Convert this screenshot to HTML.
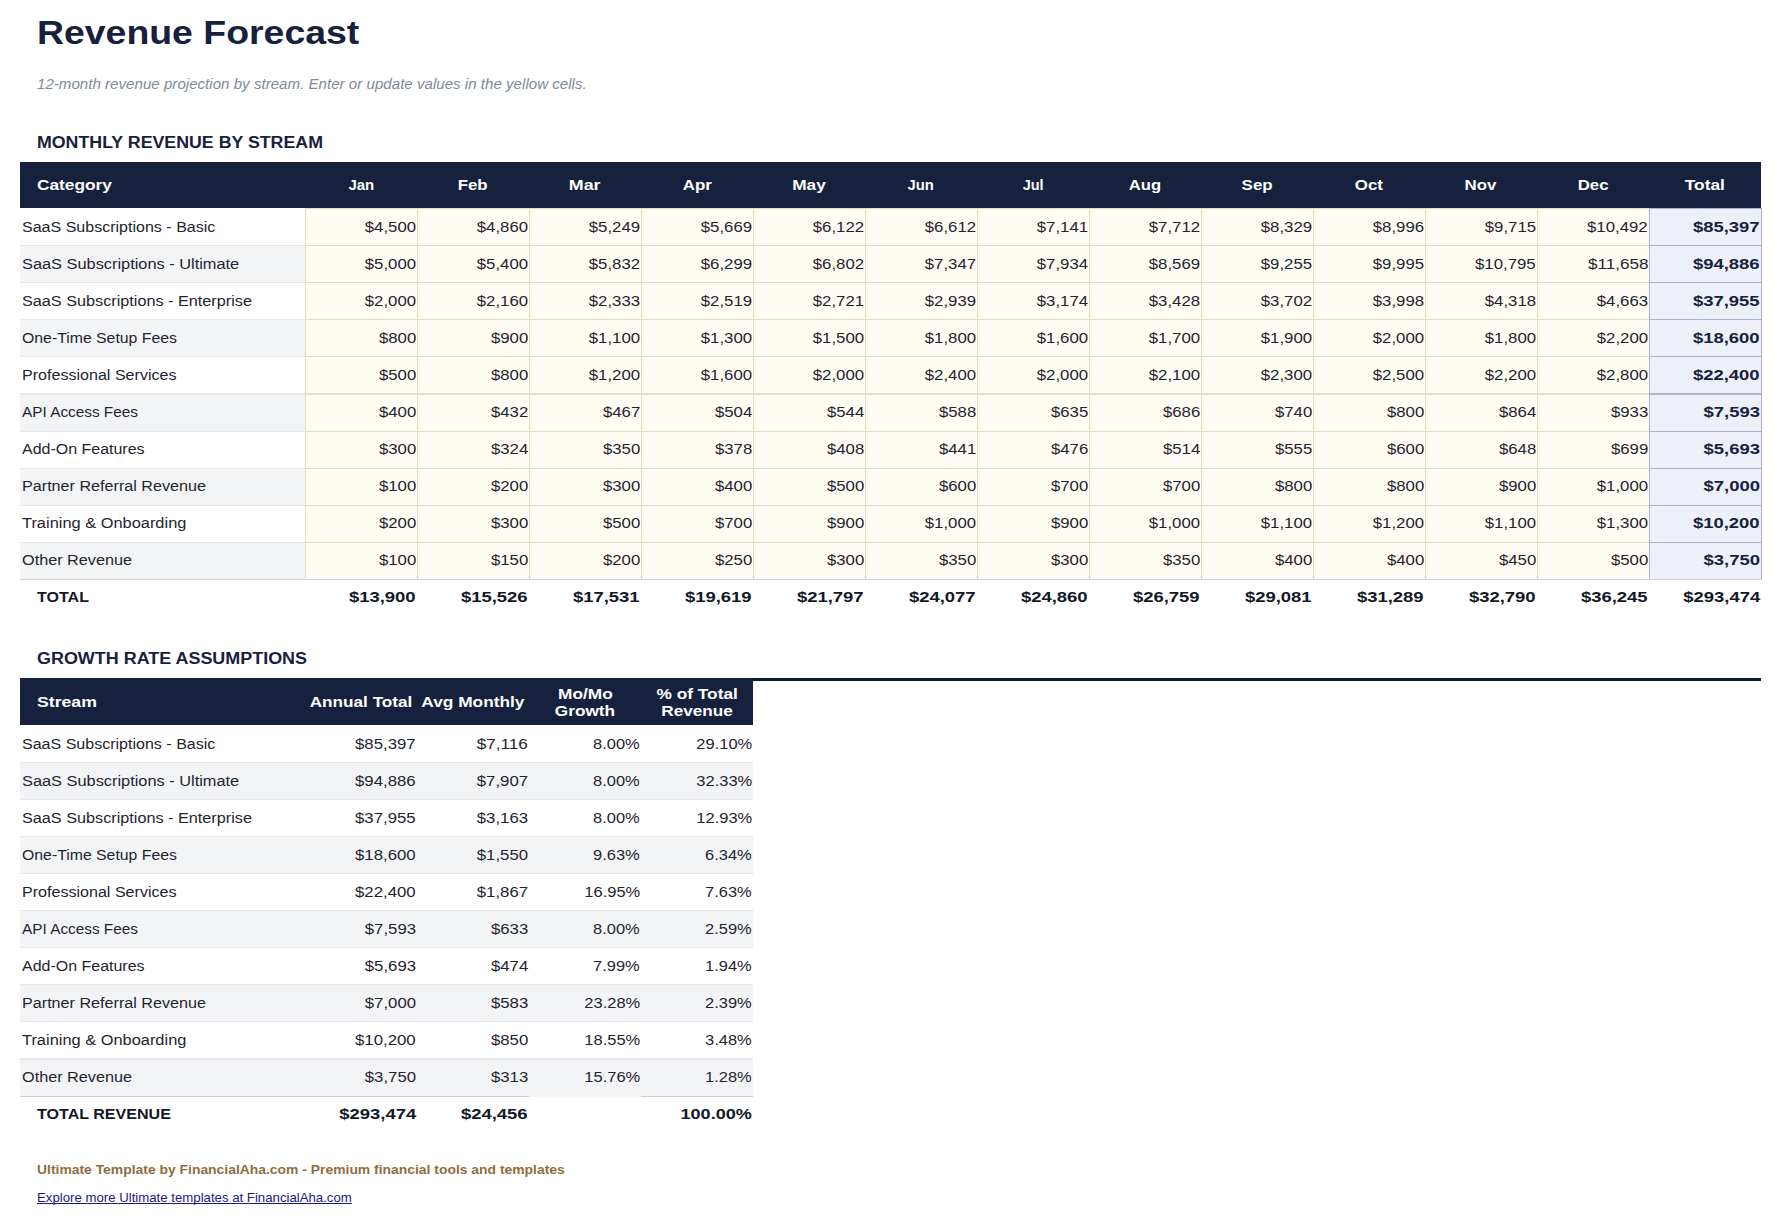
<!DOCTYPE html>
<html><head><meta charset="utf-8"><title>Revenue Forecast</title>
<style>
html,body{margin:0;padding:0;background:#fff;}
body{width:1782px;height:1225px;position:relative;overflow:hidden;font-family:"Liberation Sans", sans-serif;}
body>div{position:absolute;}
</style></head><body>
<div style="top:11.36px;height:44px;line-height:44px;font-size:33.600px;font-weight:700;color:#16213e;white-space:nowrap;left:37px;transform-origin:0 50%;transform:scaleX(1.1140);">Revenue Forecast</div>
<div style="top:75.20px;height:18px;line-height:18px;font-size:13.860px;font-weight:400;color:#808a9c;white-space:nowrap;font-style:italic;left:37px;transform-origin:0 50%;transform:scaleX(1.0911);">12-month revenue projection by stream. Enter or update values in the yellow cells.</div>
<div style="top:132.13px;height:22px;line-height:22px;font-size:16.936px;font-weight:700;color:#16213e;white-space:nowrap;left:37px;transform-origin:0 50%;transform:scaleX(1.0498);">MONTHLY REVENUE BY STREAM</div>
<div style="left:20px;top:162px;width:1741px;height:46px;background:#16213e"></div>
<div style="top:174.66px;height:20px;line-height:20px;font-size:15.404px;font-weight:700;color:#fff;white-space:nowrap;left:37px;transform-origin:0 50%;transform:scaleX(1.1232);">Category</div>
<div style="top:174.66px;height:20px;line-height:20px;font-size:15.404px;font-weight:700;color:#fff;white-space:nowrap;left:61px;width:600px;text-align:center;transform-origin:50% 50%;"><span style="display:inline-block;transform:scaleX(0.9717)">Jan</span></div>
<div style="top:174.66px;height:20px;line-height:20px;font-size:15.404px;font-weight:700;color:#fff;white-space:nowrap;left:173px;width:600px;text-align:center;transform-origin:50% 50%;"><span style="display:inline-block;transform:scaleX(1.0908)">Feb</span></div>
<div style="top:174.66px;height:20px;line-height:20px;font-size:15.404px;font-weight:700;color:#fff;white-space:nowrap;left:285px;width:600px;text-align:center;transform-origin:50% 50%;"><span style="display:inline-block;transform:scaleX(1.1581)">Mar</span></div>
<div style="top:174.66px;height:20px;line-height:20px;font-size:15.404px;font-weight:700;color:#fff;white-space:nowrap;left:397px;width:600px;text-align:center;transform-origin:50% 50%;"><span style="display:inline-block;transform:scaleX(1.0961)">Apr</span></div>
<div style="top:174.66px;height:20px;line-height:20px;font-size:15.404px;font-weight:700;color:#fff;white-space:nowrap;left:509px;width:600px;text-align:center;transform-origin:50% 50%;"><span style="display:inline-block;transform:scaleX(1.1210)">May</span></div>
<div style="top:174.66px;height:20px;line-height:20px;font-size:15.404px;font-weight:700;color:#fff;white-space:nowrap;left:621px;width:600px;text-align:center;transform-origin:50% 50%;"><span style="display:inline-block;transform:scaleX(0.9618)">Jun</span></div>
<div style="top:174.66px;height:20px;line-height:20px;font-size:15.404px;font-weight:700;color:#fff;white-space:nowrap;left:733px;width:600px;text-align:center;transform-origin:50% 50%;"><span style="display:inline-block;transform:scaleX(0.9403)">Jul</span></div>
<div style="top:174.66px;height:20px;line-height:20px;font-size:15.404px;font-weight:700;color:#fff;white-space:nowrap;left:845px;width:600px;text-align:center;transform-origin:50% 50%;"><span style="display:inline-block;transform:scaleX(1.0789)">Aug</span></div>
<div style="top:174.66px;height:20px;line-height:20px;font-size:15.404px;font-weight:700;color:#fff;white-space:nowrap;left:957px;width:600px;text-align:center;transform-origin:50% 50%;"><span style="display:inline-block;transform:scaleX(1.0980)">Sep</span></div>
<div style="top:174.66px;height:20px;line-height:20px;font-size:15.404px;font-weight:700;color:#fff;white-space:nowrap;left:1069px;width:600px;text-align:center;transform-origin:50% 50%;"><span style="display:inline-block;transform:scaleX(1.0974)">Oct</span></div>
<div style="top:174.66px;height:20px;line-height:20px;font-size:15.404px;font-weight:700;color:#fff;white-space:nowrap;left:1181px;width:600px;text-align:center;transform-origin:50% 50%;"><span style="display:inline-block;transform:scaleX(1.0967)">Nov</span></div>
<div style="top:174.66px;height:20px;line-height:20px;font-size:15.404px;font-weight:700;color:#fff;white-space:nowrap;left:1293px;width:600px;text-align:center;transform-origin:50% 50%;"><span style="display:inline-block;transform:scaleX(1.0908)">Dec</span></div>
<div style="top:174.66px;height:20px;line-height:20px;font-size:15.404px;font-weight:700;color:#fff;white-space:nowrap;left:1405px;width:600px;text-align:center;transform-origin:50% 50%;"><span style="display:inline-block;transform:scaleX(1.1241)">Total</span></div>
<div style="left:20px;top:208px;width:285px;height:38px;background:#ffffff"></div>
<div style="left:20px;top:245px;width:285px;height:38px;background:#f3f4f6"></div>
<div style="left:20px;top:282px;width:285px;height:38px;background:#ffffff"></div>
<div style="left:20px;top:319px;width:285px;height:38px;background:#f3f4f6"></div>
<div style="left:20px;top:356px;width:285px;height:39px;background:#ffffff"></div>
<div style="left:20px;top:393px;width:285px;height:39px;background:#f3f4f6"></div>
<div style="left:20px;top:431px;width:285px;height:38px;background:#ffffff"></div>
<div style="left:20px;top:468px;width:285px;height:38px;background:#f3f4f6"></div>
<div style="left:20px;top:505px;width:285px;height:38px;background:#ffffff"></div>
<div style="left:20px;top:542px;width:285px;height:38px;background:#f3f4f6"></div>
<div style="left:305px;top:208px;width:1344px;height:371px;background:#fffcf3"></div>
<div style="left:1649px;top:208px;width:112px;height:371px;background:#edf0f8"></div>
<div style="left:20px;top:245px;width:285px;height:1px;background:#e5e7eb"></div>
<div style="left:20px;top:282px;width:285px;height:1px;background:#e5e7eb"></div>
<div style="left:20px;top:319px;width:285px;height:1px;background:#e5e7eb"></div>
<div style="left:20px;top:356px;width:285px;height:1px;background:#e5e7eb"></div>
<div style="left:20px;top:393px;width:285px;height:1px;background:#e6e8ec"></div>
<div style="left:20px;top:394px;width:285px;height:1px;background:#e6e8ec"></div>
<div style="left:20px;top:431px;width:285px;height:1px;background:#e5e7eb"></div>
<div style="left:20px;top:468px;width:285px;height:1px;background:#e5e7eb"></div>
<div style="left:20px;top:505px;width:285px;height:1px;background:#e5e7eb"></div>
<div style="left:20px;top:542px;width:285px;height:1px;background:#e5e7eb"></div>
<div style="top:216.66px;height:20px;line-height:20px;font-size:15.404px;font-weight:400;color:#1f2430;white-space:nowrap;left:21.5px;transform-origin:0 50%;transform:scaleX(1.0415);">SaaS Subscriptions - Basic</div>
<div style="top:216.66px;height:20px;line-height:20px;font-size:15.404px;font-weight:400;color:#1f2430;white-space:nowrap;right:1366px;transform-origin:100% 50%;text-align:right;transform:scaleX(1.0896);">$4,500</div>
<div style="top:216.66px;height:20px;line-height:20px;font-size:15.404px;font-weight:400;color:#1f2430;white-space:nowrap;right:1254px;transform-origin:100% 50%;text-align:right;transform:scaleX(1.0896);">$4,860</div>
<div style="top:216.66px;height:20px;line-height:20px;font-size:15.404px;font-weight:400;color:#1f2430;white-space:nowrap;right:1142px;transform-origin:100% 50%;text-align:right;transform:scaleX(1.0896);">$5,249</div>
<div style="top:216.66px;height:20px;line-height:20px;font-size:15.404px;font-weight:400;color:#1f2430;white-space:nowrap;right:1030px;transform-origin:100% 50%;text-align:right;transform:scaleX(1.0896);">$5,669</div>
<div style="top:216.66px;height:20px;line-height:20px;font-size:15.404px;font-weight:400;color:#1f2430;white-space:nowrap;right:918px;transform-origin:100% 50%;text-align:right;transform:scaleX(1.0896);">$6,122</div>
<div style="top:216.66px;height:20px;line-height:20px;font-size:15.404px;font-weight:400;color:#1f2430;white-space:nowrap;right:806px;transform-origin:100% 50%;text-align:right;transform:scaleX(1.0896);">$6,612</div>
<div style="top:216.66px;height:20px;line-height:20px;font-size:15.404px;font-weight:400;color:#1f2430;white-space:nowrap;right:694px;transform-origin:100% 50%;text-align:right;transform:scaleX(1.0896);">$7,141</div>
<div style="top:216.66px;height:20px;line-height:20px;font-size:15.404px;font-weight:400;color:#1f2430;white-space:nowrap;right:582px;transform-origin:100% 50%;text-align:right;transform:scaleX(1.0896);">$7,712</div>
<div style="top:216.66px;height:20px;line-height:20px;font-size:15.404px;font-weight:400;color:#1f2430;white-space:nowrap;right:470px;transform-origin:100% 50%;text-align:right;transform:scaleX(1.0896);">$8,329</div>
<div style="top:216.66px;height:20px;line-height:20px;font-size:15.404px;font-weight:400;color:#1f2430;white-space:nowrap;right:358px;transform-origin:100% 50%;text-align:right;transform:scaleX(1.0896);">$8,996</div>
<div style="top:216.66px;height:20px;line-height:20px;font-size:15.404px;font-weight:400;color:#1f2430;white-space:nowrap;right:246px;transform-origin:100% 50%;text-align:right;transform:scaleX(1.0896);">$9,715</div>
<div style="top:216.66px;height:20px;line-height:20px;font-size:15.404px;font-weight:400;color:#1f2430;white-space:nowrap;right:134px;transform-origin:100% 50%;text-align:right;transform:scaleX(1.0893);">$10,492</div>
<div style="top:216.66px;height:20px;line-height:20px;font-size:15.404px;font-weight:700;color:#16213e;white-space:nowrap;right:22px;transform-origin:100% 50%;text-align:right;transform:scaleX(1.1999);">$85,397</div>
<div style="top:253.66px;height:20px;line-height:20px;font-size:15.404px;font-weight:400;color:#1f2430;white-space:nowrap;left:21.5px;transform-origin:0 50%;transform:scaleX(1.0624);">SaaS Subscriptions - Ultimate</div>
<div style="top:253.66px;height:20px;line-height:20px;font-size:15.404px;font-weight:400;color:#1f2430;white-space:nowrap;right:1366px;transform-origin:100% 50%;text-align:right;transform:scaleX(1.0896);">$5,000</div>
<div style="top:253.66px;height:20px;line-height:20px;font-size:15.404px;font-weight:400;color:#1f2430;white-space:nowrap;right:1254px;transform-origin:100% 50%;text-align:right;transform:scaleX(1.0896);">$5,400</div>
<div style="top:253.66px;height:20px;line-height:20px;font-size:15.404px;font-weight:400;color:#1f2430;white-space:nowrap;right:1142px;transform-origin:100% 50%;text-align:right;transform:scaleX(1.0896);">$5,832</div>
<div style="top:253.66px;height:20px;line-height:20px;font-size:15.404px;font-weight:400;color:#1f2430;white-space:nowrap;right:1030px;transform-origin:100% 50%;text-align:right;transform:scaleX(1.0896);">$6,299</div>
<div style="top:253.66px;height:20px;line-height:20px;font-size:15.404px;font-weight:400;color:#1f2430;white-space:nowrap;right:918px;transform-origin:100% 50%;text-align:right;transform:scaleX(1.0896);">$6,802</div>
<div style="top:253.66px;height:20px;line-height:20px;font-size:15.404px;font-weight:400;color:#1f2430;white-space:nowrap;right:806px;transform-origin:100% 50%;text-align:right;transform:scaleX(1.0896);">$7,347</div>
<div style="top:253.66px;height:20px;line-height:20px;font-size:15.404px;font-weight:400;color:#1f2430;white-space:nowrap;right:694px;transform-origin:100% 50%;text-align:right;transform:scaleX(1.0896);">$7,934</div>
<div style="top:253.66px;height:20px;line-height:20px;font-size:15.404px;font-weight:400;color:#1f2430;white-space:nowrap;right:582px;transform-origin:100% 50%;text-align:right;transform:scaleX(1.0896);">$8,569</div>
<div style="top:253.66px;height:20px;line-height:20px;font-size:15.404px;font-weight:400;color:#1f2430;white-space:nowrap;right:470px;transform-origin:100% 50%;text-align:right;transform:scaleX(1.0896);">$9,255</div>
<div style="top:253.66px;height:20px;line-height:20px;font-size:15.404px;font-weight:400;color:#1f2430;white-space:nowrap;right:358px;transform-origin:100% 50%;text-align:right;transform:scaleX(1.0896);">$9,995</div>
<div style="top:253.66px;height:20px;line-height:20px;font-size:15.404px;font-weight:400;color:#1f2430;white-space:nowrap;right:246px;transform-origin:100% 50%;text-align:right;transform:scaleX(1.0893);">$10,795</div>
<div style="top:253.66px;height:20px;line-height:20px;font-size:15.404px;font-weight:400;color:#1f2430;white-space:nowrap;right:134px;transform-origin:100% 50%;text-align:right;transform:scaleX(1.1121);">$11,658</div>
<div style="top:253.66px;height:20px;line-height:20px;font-size:15.404px;font-weight:700;color:#16213e;white-space:nowrap;right:22px;transform-origin:100% 50%;text-align:right;transform:scaleX(1.1999);">$94,886</div>
<div style="top:290.66px;height:20px;line-height:20px;font-size:15.404px;font-weight:400;color:#1f2430;white-space:nowrap;left:21.5px;transform-origin:0 50%;transform:scaleX(1.0541);">SaaS Subscriptions - Enterprise</div>
<div style="top:290.66px;height:20px;line-height:20px;font-size:15.404px;font-weight:400;color:#1f2430;white-space:nowrap;right:1366px;transform-origin:100% 50%;text-align:right;transform:scaleX(1.0896);">$2,000</div>
<div style="top:290.66px;height:20px;line-height:20px;font-size:15.404px;font-weight:400;color:#1f2430;white-space:nowrap;right:1254px;transform-origin:100% 50%;text-align:right;transform:scaleX(1.0896);">$2,160</div>
<div style="top:290.66px;height:20px;line-height:20px;font-size:15.404px;font-weight:400;color:#1f2430;white-space:nowrap;right:1142px;transform-origin:100% 50%;text-align:right;transform:scaleX(1.0896);">$2,333</div>
<div style="top:290.66px;height:20px;line-height:20px;font-size:15.404px;font-weight:400;color:#1f2430;white-space:nowrap;right:1030px;transform-origin:100% 50%;text-align:right;transform:scaleX(1.0896);">$2,519</div>
<div style="top:290.66px;height:20px;line-height:20px;font-size:15.404px;font-weight:400;color:#1f2430;white-space:nowrap;right:918px;transform-origin:100% 50%;text-align:right;transform:scaleX(1.0896);">$2,721</div>
<div style="top:290.66px;height:20px;line-height:20px;font-size:15.404px;font-weight:400;color:#1f2430;white-space:nowrap;right:806px;transform-origin:100% 50%;text-align:right;transform:scaleX(1.0896);">$2,939</div>
<div style="top:290.66px;height:20px;line-height:20px;font-size:15.404px;font-weight:400;color:#1f2430;white-space:nowrap;right:694px;transform-origin:100% 50%;text-align:right;transform:scaleX(1.0896);">$3,174</div>
<div style="top:290.66px;height:20px;line-height:20px;font-size:15.404px;font-weight:400;color:#1f2430;white-space:nowrap;right:582px;transform-origin:100% 50%;text-align:right;transform:scaleX(1.0896);">$3,428</div>
<div style="top:290.66px;height:20px;line-height:20px;font-size:15.404px;font-weight:400;color:#1f2430;white-space:nowrap;right:470px;transform-origin:100% 50%;text-align:right;transform:scaleX(1.0896);">$3,702</div>
<div style="top:290.66px;height:20px;line-height:20px;font-size:15.404px;font-weight:400;color:#1f2430;white-space:nowrap;right:358px;transform-origin:100% 50%;text-align:right;transform:scaleX(1.0896);">$3,998</div>
<div style="top:290.66px;height:20px;line-height:20px;font-size:15.404px;font-weight:400;color:#1f2430;white-space:nowrap;right:246px;transform-origin:100% 50%;text-align:right;transform:scaleX(1.0896);">$4,318</div>
<div style="top:290.66px;height:20px;line-height:20px;font-size:15.404px;font-weight:400;color:#1f2430;white-space:nowrap;right:134px;transform-origin:100% 50%;text-align:right;transform:scaleX(1.0896);">$4,663</div>
<div style="top:290.66px;height:20px;line-height:20px;font-size:15.404px;font-weight:700;color:#16213e;white-space:nowrap;right:22px;transform-origin:100% 50%;text-align:right;transform:scaleX(1.1999);">$37,955</div>
<div style="top:327.66px;height:20px;line-height:20px;font-size:15.404px;font-weight:400;color:#1f2430;white-space:nowrap;left:21.5px;transform-origin:0 50%;transform:scaleX(1.0271);">One-Time Setup Fees</div>
<div style="top:327.66px;height:20px;line-height:20px;font-size:15.404px;font-weight:400;color:#1f2430;white-space:nowrap;right:1366px;transform-origin:100% 50%;text-align:right;transform:scaleX(1.0894);">$800</div>
<div style="top:327.66px;height:20px;line-height:20px;font-size:15.404px;font-weight:400;color:#1f2430;white-space:nowrap;right:1254px;transform-origin:100% 50%;text-align:right;transform:scaleX(1.0894);">$900</div>
<div style="top:327.66px;height:20px;line-height:20px;font-size:15.404px;font-weight:400;color:#1f2430;white-space:nowrap;right:1142px;transform-origin:100% 50%;text-align:right;transform:scaleX(1.0896);">$1,100</div>
<div style="top:327.66px;height:20px;line-height:20px;font-size:15.404px;font-weight:400;color:#1f2430;white-space:nowrap;right:1030px;transform-origin:100% 50%;text-align:right;transform:scaleX(1.0896);">$1,300</div>
<div style="top:327.66px;height:20px;line-height:20px;font-size:15.404px;font-weight:400;color:#1f2430;white-space:nowrap;right:918px;transform-origin:100% 50%;text-align:right;transform:scaleX(1.0896);">$1,500</div>
<div style="top:327.66px;height:20px;line-height:20px;font-size:15.404px;font-weight:400;color:#1f2430;white-space:nowrap;right:806px;transform-origin:100% 50%;text-align:right;transform:scaleX(1.0896);">$1,800</div>
<div style="top:327.66px;height:20px;line-height:20px;font-size:15.404px;font-weight:400;color:#1f2430;white-space:nowrap;right:694px;transform-origin:100% 50%;text-align:right;transform:scaleX(1.0896);">$1,600</div>
<div style="top:327.66px;height:20px;line-height:20px;font-size:15.404px;font-weight:400;color:#1f2430;white-space:nowrap;right:582px;transform-origin:100% 50%;text-align:right;transform:scaleX(1.0896);">$1,700</div>
<div style="top:327.66px;height:20px;line-height:20px;font-size:15.404px;font-weight:400;color:#1f2430;white-space:nowrap;right:470px;transform-origin:100% 50%;text-align:right;transform:scaleX(1.0896);">$1,900</div>
<div style="top:327.66px;height:20px;line-height:20px;font-size:15.404px;font-weight:400;color:#1f2430;white-space:nowrap;right:358px;transform-origin:100% 50%;text-align:right;transform:scaleX(1.0896);">$2,000</div>
<div style="top:327.66px;height:20px;line-height:20px;font-size:15.404px;font-weight:400;color:#1f2430;white-space:nowrap;right:246px;transform-origin:100% 50%;text-align:right;transform:scaleX(1.0896);">$1,800</div>
<div style="top:327.66px;height:20px;line-height:20px;font-size:15.404px;font-weight:400;color:#1f2430;white-space:nowrap;right:134px;transform-origin:100% 50%;text-align:right;transform:scaleX(1.0896);">$2,200</div>
<div style="top:327.66px;height:20px;line-height:20px;font-size:15.404px;font-weight:700;color:#16213e;white-space:nowrap;right:22px;transform-origin:100% 50%;text-align:right;transform:scaleX(1.1999);">$18,600</div>
<div style="top:364.66px;height:20px;line-height:20px;font-size:15.404px;font-weight:400;color:#1f2430;white-space:nowrap;left:21.5px;transform-origin:0 50%;transform:scaleX(1.0442);">Professional Services</div>
<div style="top:364.66px;height:20px;line-height:20px;font-size:15.404px;font-weight:400;color:#1f2430;white-space:nowrap;right:1366px;transform-origin:100% 50%;text-align:right;transform:scaleX(1.0894);">$500</div>
<div style="top:364.66px;height:20px;line-height:20px;font-size:15.404px;font-weight:400;color:#1f2430;white-space:nowrap;right:1254px;transform-origin:100% 50%;text-align:right;transform:scaleX(1.0894);">$800</div>
<div style="top:364.66px;height:20px;line-height:20px;font-size:15.404px;font-weight:400;color:#1f2430;white-space:nowrap;right:1142px;transform-origin:100% 50%;text-align:right;transform:scaleX(1.0896);">$1,200</div>
<div style="top:364.66px;height:20px;line-height:20px;font-size:15.404px;font-weight:400;color:#1f2430;white-space:nowrap;right:1030px;transform-origin:100% 50%;text-align:right;transform:scaleX(1.0896);">$1,600</div>
<div style="top:364.66px;height:20px;line-height:20px;font-size:15.404px;font-weight:400;color:#1f2430;white-space:nowrap;right:918px;transform-origin:100% 50%;text-align:right;transform:scaleX(1.0896);">$2,000</div>
<div style="top:364.66px;height:20px;line-height:20px;font-size:15.404px;font-weight:400;color:#1f2430;white-space:nowrap;right:806px;transform-origin:100% 50%;text-align:right;transform:scaleX(1.0896);">$2,400</div>
<div style="top:364.66px;height:20px;line-height:20px;font-size:15.404px;font-weight:400;color:#1f2430;white-space:nowrap;right:694px;transform-origin:100% 50%;text-align:right;transform:scaleX(1.0896);">$2,000</div>
<div style="top:364.66px;height:20px;line-height:20px;font-size:15.404px;font-weight:400;color:#1f2430;white-space:nowrap;right:582px;transform-origin:100% 50%;text-align:right;transform:scaleX(1.0896);">$2,100</div>
<div style="top:364.66px;height:20px;line-height:20px;font-size:15.404px;font-weight:400;color:#1f2430;white-space:nowrap;right:470px;transform-origin:100% 50%;text-align:right;transform:scaleX(1.0896);">$2,300</div>
<div style="top:364.66px;height:20px;line-height:20px;font-size:15.404px;font-weight:400;color:#1f2430;white-space:nowrap;right:358px;transform-origin:100% 50%;text-align:right;transform:scaleX(1.0896);">$2,500</div>
<div style="top:364.66px;height:20px;line-height:20px;font-size:15.404px;font-weight:400;color:#1f2430;white-space:nowrap;right:246px;transform-origin:100% 50%;text-align:right;transform:scaleX(1.0896);">$2,200</div>
<div style="top:364.66px;height:20px;line-height:20px;font-size:15.404px;font-weight:400;color:#1f2430;white-space:nowrap;right:134px;transform-origin:100% 50%;text-align:right;transform:scaleX(1.0896);">$2,800</div>
<div style="top:364.66px;height:20px;line-height:20px;font-size:15.404px;font-weight:700;color:#16213e;white-space:nowrap;right:22px;transform-origin:100% 50%;text-align:right;transform:scaleX(1.1999);">$22,400</div>
<div style="top:401.66px;height:20px;line-height:20px;font-size:15.404px;font-weight:400;color:#1f2430;white-space:nowrap;left:21.5px;transform-origin:0 50%;transform:scaleX(0.9969);">API Access Fees</div>
<div style="top:401.66px;height:20px;line-height:20px;font-size:15.404px;font-weight:400;color:#1f2430;white-space:nowrap;right:1366px;transform-origin:100% 50%;text-align:right;transform:scaleX(1.0894);">$400</div>
<div style="top:401.66px;height:20px;line-height:20px;font-size:15.404px;font-weight:400;color:#1f2430;white-space:nowrap;right:1254px;transform-origin:100% 50%;text-align:right;transform:scaleX(1.0894);">$432</div>
<div style="top:401.66px;height:20px;line-height:20px;font-size:15.404px;font-weight:400;color:#1f2430;white-space:nowrap;right:1142px;transform-origin:100% 50%;text-align:right;transform:scaleX(1.0894);">$467</div>
<div style="top:401.66px;height:20px;line-height:20px;font-size:15.404px;font-weight:400;color:#1f2430;white-space:nowrap;right:1030px;transform-origin:100% 50%;text-align:right;transform:scaleX(1.0894);">$504</div>
<div style="top:401.66px;height:20px;line-height:20px;font-size:15.404px;font-weight:400;color:#1f2430;white-space:nowrap;right:918px;transform-origin:100% 50%;text-align:right;transform:scaleX(1.0894);">$544</div>
<div style="top:401.66px;height:20px;line-height:20px;font-size:15.404px;font-weight:400;color:#1f2430;white-space:nowrap;right:806px;transform-origin:100% 50%;text-align:right;transform:scaleX(1.0894);">$588</div>
<div style="top:401.66px;height:20px;line-height:20px;font-size:15.404px;font-weight:400;color:#1f2430;white-space:nowrap;right:694px;transform-origin:100% 50%;text-align:right;transform:scaleX(1.0894);">$635</div>
<div style="top:401.66px;height:20px;line-height:20px;font-size:15.404px;font-weight:400;color:#1f2430;white-space:nowrap;right:582px;transform-origin:100% 50%;text-align:right;transform:scaleX(1.0894);">$686</div>
<div style="top:401.66px;height:20px;line-height:20px;font-size:15.404px;font-weight:400;color:#1f2430;white-space:nowrap;right:470px;transform-origin:100% 50%;text-align:right;transform:scaleX(1.0894);">$740</div>
<div style="top:401.66px;height:20px;line-height:20px;font-size:15.404px;font-weight:400;color:#1f2430;white-space:nowrap;right:358px;transform-origin:100% 50%;text-align:right;transform:scaleX(1.0894);">$800</div>
<div style="top:401.66px;height:20px;line-height:20px;font-size:15.404px;font-weight:400;color:#1f2430;white-space:nowrap;right:246px;transform-origin:100% 50%;text-align:right;transform:scaleX(1.0894);">$864</div>
<div style="top:401.66px;height:20px;line-height:20px;font-size:15.404px;font-weight:400;color:#1f2430;white-space:nowrap;right:134px;transform-origin:100% 50%;text-align:right;transform:scaleX(1.0894);">$933</div>
<div style="top:401.66px;height:20px;line-height:20px;font-size:15.404px;font-weight:700;color:#16213e;white-space:nowrap;right:22px;transform-origin:100% 50%;text-align:right;transform:scaleX(1.2015);">$7,593</div>
<div style="top:438.66px;height:20px;line-height:20px;font-size:15.404px;font-weight:400;color:#1f2430;white-space:nowrap;left:21.5px;transform-origin:0 50%;transform:scaleX(1.0382);">Add-On Features</div>
<div style="top:438.66px;height:20px;line-height:20px;font-size:15.404px;font-weight:400;color:#1f2430;white-space:nowrap;right:1366px;transform-origin:100% 50%;text-align:right;transform:scaleX(1.0894);">$300</div>
<div style="top:438.66px;height:20px;line-height:20px;font-size:15.404px;font-weight:400;color:#1f2430;white-space:nowrap;right:1254px;transform-origin:100% 50%;text-align:right;transform:scaleX(1.0894);">$324</div>
<div style="top:438.66px;height:20px;line-height:20px;font-size:15.404px;font-weight:400;color:#1f2430;white-space:nowrap;right:1142px;transform-origin:100% 50%;text-align:right;transform:scaleX(1.0894);">$350</div>
<div style="top:438.66px;height:20px;line-height:20px;font-size:15.404px;font-weight:400;color:#1f2430;white-space:nowrap;right:1030px;transform-origin:100% 50%;text-align:right;transform:scaleX(1.0894);">$378</div>
<div style="top:438.66px;height:20px;line-height:20px;font-size:15.404px;font-weight:400;color:#1f2430;white-space:nowrap;right:918px;transform-origin:100% 50%;text-align:right;transform:scaleX(1.0894);">$408</div>
<div style="top:438.66px;height:20px;line-height:20px;font-size:15.404px;font-weight:400;color:#1f2430;white-space:nowrap;right:806px;transform-origin:100% 50%;text-align:right;transform:scaleX(1.0894);">$441</div>
<div style="top:438.66px;height:20px;line-height:20px;font-size:15.404px;font-weight:400;color:#1f2430;white-space:nowrap;right:694px;transform-origin:100% 50%;text-align:right;transform:scaleX(1.0894);">$476</div>
<div style="top:438.66px;height:20px;line-height:20px;font-size:15.404px;font-weight:400;color:#1f2430;white-space:nowrap;right:582px;transform-origin:100% 50%;text-align:right;transform:scaleX(1.0894);">$514</div>
<div style="top:438.66px;height:20px;line-height:20px;font-size:15.404px;font-weight:400;color:#1f2430;white-space:nowrap;right:470px;transform-origin:100% 50%;text-align:right;transform:scaleX(1.0894);">$555</div>
<div style="top:438.66px;height:20px;line-height:20px;font-size:15.404px;font-weight:400;color:#1f2430;white-space:nowrap;right:358px;transform-origin:100% 50%;text-align:right;transform:scaleX(1.0894);">$600</div>
<div style="top:438.66px;height:20px;line-height:20px;font-size:15.404px;font-weight:400;color:#1f2430;white-space:nowrap;right:246px;transform-origin:100% 50%;text-align:right;transform:scaleX(1.0894);">$648</div>
<div style="top:438.66px;height:20px;line-height:20px;font-size:15.404px;font-weight:400;color:#1f2430;white-space:nowrap;right:134px;transform-origin:100% 50%;text-align:right;transform:scaleX(1.0894);">$699</div>
<div style="top:438.66px;height:20px;line-height:20px;font-size:15.404px;font-weight:700;color:#16213e;white-space:nowrap;right:22px;transform-origin:100% 50%;text-align:right;transform:scaleX(1.2015);">$5,693</div>
<div style="top:475.66px;height:20px;line-height:20px;font-size:15.404px;font-weight:400;color:#1f2430;white-space:nowrap;left:21.5px;transform-origin:0 50%;transform:scaleX(1.0491);">Partner Referral Revenue</div>
<div style="top:475.66px;height:20px;line-height:20px;font-size:15.404px;font-weight:400;color:#1f2430;white-space:nowrap;right:1366px;transform-origin:100% 50%;text-align:right;transform:scaleX(1.0894);">$100</div>
<div style="top:475.66px;height:20px;line-height:20px;font-size:15.404px;font-weight:400;color:#1f2430;white-space:nowrap;right:1254px;transform-origin:100% 50%;text-align:right;transform:scaleX(1.0894);">$200</div>
<div style="top:475.66px;height:20px;line-height:20px;font-size:15.404px;font-weight:400;color:#1f2430;white-space:nowrap;right:1142px;transform-origin:100% 50%;text-align:right;transform:scaleX(1.0894);">$300</div>
<div style="top:475.66px;height:20px;line-height:20px;font-size:15.404px;font-weight:400;color:#1f2430;white-space:nowrap;right:1030px;transform-origin:100% 50%;text-align:right;transform:scaleX(1.0894);">$400</div>
<div style="top:475.66px;height:20px;line-height:20px;font-size:15.404px;font-weight:400;color:#1f2430;white-space:nowrap;right:918px;transform-origin:100% 50%;text-align:right;transform:scaleX(1.0894);">$500</div>
<div style="top:475.66px;height:20px;line-height:20px;font-size:15.404px;font-weight:400;color:#1f2430;white-space:nowrap;right:806px;transform-origin:100% 50%;text-align:right;transform:scaleX(1.0894);">$600</div>
<div style="top:475.66px;height:20px;line-height:20px;font-size:15.404px;font-weight:400;color:#1f2430;white-space:nowrap;right:694px;transform-origin:100% 50%;text-align:right;transform:scaleX(1.0894);">$700</div>
<div style="top:475.66px;height:20px;line-height:20px;font-size:15.404px;font-weight:400;color:#1f2430;white-space:nowrap;right:582px;transform-origin:100% 50%;text-align:right;transform:scaleX(1.0894);">$700</div>
<div style="top:475.66px;height:20px;line-height:20px;font-size:15.404px;font-weight:400;color:#1f2430;white-space:nowrap;right:470px;transform-origin:100% 50%;text-align:right;transform:scaleX(1.0894);">$800</div>
<div style="top:475.66px;height:20px;line-height:20px;font-size:15.404px;font-weight:400;color:#1f2430;white-space:nowrap;right:358px;transform-origin:100% 50%;text-align:right;transform:scaleX(1.0894);">$800</div>
<div style="top:475.66px;height:20px;line-height:20px;font-size:15.404px;font-weight:400;color:#1f2430;white-space:nowrap;right:246px;transform-origin:100% 50%;text-align:right;transform:scaleX(1.0894);">$900</div>
<div style="top:475.66px;height:20px;line-height:20px;font-size:15.404px;font-weight:400;color:#1f2430;white-space:nowrap;right:134px;transform-origin:100% 50%;text-align:right;transform:scaleX(1.0896);">$1,000</div>
<div style="top:475.66px;height:20px;line-height:20px;font-size:15.404px;font-weight:700;color:#16213e;white-space:nowrap;right:22px;transform-origin:100% 50%;text-align:right;transform:scaleX(1.2015);">$7,000</div>
<div style="top:512.66px;height:20px;line-height:20px;font-size:15.404px;font-weight:400;color:#1f2430;white-space:nowrap;left:21.5px;transform-origin:0 50%;transform:scaleX(1.0654);">Training &amp; Onboarding</div>
<div style="top:512.66px;height:20px;line-height:20px;font-size:15.404px;font-weight:400;color:#1f2430;white-space:nowrap;right:1366px;transform-origin:100% 50%;text-align:right;transform:scaleX(1.0894);">$200</div>
<div style="top:512.66px;height:20px;line-height:20px;font-size:15.404px;font-weight:400;color:#1f2430;white-space:nowrap;right:1254px;transform-origin:100% 50%;text-align:right;transform:scaleX(1.0894);">$300</div>
<div style="top:512.66px;height:20px;line-height:20px;font-size:15.404px;font-weight:400;color:#1f2430;white-space:nowrap;right:1142px;transform-origin:100% 50%;text-align:right;transform:scaleX(1.0894);">$500</div>
<div style="top:512.66px;height:20px;line-height:20px;font-size:15.404px;font-weight:400;color:#1f2430;white-space:nowrap;right:1030px;transform-origin:100% 50%;text-align:right;transform:scaleX(1.0894);">$700</div>
<div style="top:512.66px;height:20px;line-height:20px;font-size:15.404px;font-weight:400;color:#1f2430;white-space:nowrap;right:918px;transform-origin:100% 50%;text-align:right;transform:scaleX(1.0894);">$900</div>
<div style="top:512.66px;height:20px;line-height:20px;font-size:15.404px;font-weight:400;color:#1f2430;white-space:nowrap;right:806px;transform-origin:100% 50%;text-align:right;transform:scaleX(1.0896);">$1,000</div>
<div style="top:512.66px;height:20px;line-height:20px;font-size:15.404px;font-weight:400;color:#1f2430;white-space:nowrap;right:694px;transform-origin:100% 50%;text-align:right;transform:scaleX(1.0894);">$900</div>
<div style="top:512.66px;height:20px;line-height:20px;font-size:15.404px;font-weight:400;color:#1f2430;white-space:nowrap;right:582px;transform-origin:100% 50%;text-align:right;transform:scaleX(1.0896);">$1,000</div>
<div style="top:512.66px;height:20px;line-height:20px;font-size:15.404px;font-weight:400;color:#1f2430;white-space:nowrap;right:470px;transform-origin:100% 50%;text-align:right;transform:scaleX(1.0896);">$1,100</div>
<div style="top:512.66px;height:20px;line-height:20px;font-size:15.404px;font-weight:400;color:#1f2430;white-space:nowrap;right:358px;transform-origin:100% 50%;text-align:right;transform:scaleX(1.0896);">$1,200</div>
<div style="top:512.66px;height:20px;line-height:20px;font-size:15.404px;font-weight:400;color:#1f2430;white-space:nowrap;right:246px;transform-origin:100% 50%;text-align:right;transform:scaleX(1.0896);">$1,100</div>
<div style="top:512.66px;height:20px;line-height:20px;font-size:15.404px;font-weight:400;color:#1f2430;white-space:nowrap;right:134px;transform-origin:100% 50%;text-align:right;transform:scaleX(1.0896);">$1,300</div>
<div style="top:512.66px;height:20px;line-height:20px;font-size:15.404px;font-weight:700;color:#16213e;white-space:nowrap;right:22px;transform-origin:100% 50%;text-align:right;transform:scaleX(1.1999);">$10,200</div>
<div style="top:549.66px;height:20px;line-height:20px;font-size:15.404px;font-weight:400;color:#1f2430;white-space:nowrap;left:21.5px;transform-origin:0 50%;transform:scaleX(1.0548);">Other Revenue</div>
<div style="top:549.66px;height:20px;line-height:20px;font-size:15.404px;font-weight:400;color:#1f2430;white-space:nowrap;right:1366px;transform-origin:100% 50%;text-align:right;transform:scaleX(1.0894);">$100</div>
<div style="top:549.66px;height:20px;line-height:20px;font-size:15.404px;font-weight:400;color:#1f2430;white-space:nowrap;right:1254px;transform-origin:100% 50%;text-align:right;transform:scaleX(1.0894);">$150</div>
<div style="top:549.66px;height:20px;line-height:20px;font-size:15.404px;font-weight:400;color:#1f2430;white-space:nowrap;right:1142px;transform-origin:100% 50%;text-align:right;transform:scaleX(1.0894);">$200</div>
<div style="top:549.66px;height:20px;line-height:20px;font-size:15.404px;font-weight:400;color:#1f2430;white-space:nowrap;right:1030px;transform-origin:100% 50%;text-align:right;transform:scaleX(1.0894);">$250</div>
<div style="top:549.66px;height:20px;line-height:20px;font-size:15.404px;font-weight:400;color:#1f2430;white-space:nowrap;right:918px;transform-origin:100% 50%;text-align:right;transform:scaleX(1.0894);">$300</div>
<div style="top:549.66px;height:20px;line-height:20px;font-size:15.404px;font-weight:400;color:#1f2430;white-space:nowrap;right:806px;transform-origin:100% 50%;text-align:right;transform:scaleX(1.0894);">$350</div>
<div style="top:549.66px;height:20px;line-height:20px;font-size:15.404px;font-weight:400;color:#1f2430;white-space:nowrap;right:694px;transform-origin:100% 50%;text-align:right;transform:scaleX(1.0894);">$300</div>
<div style="top:549.66px;height:20px;line-height:20px;font-size:15.404px;font-weight:400;color:#1f2430;white-space:nowrap;right:582px;transform-origin:100% 50%;text-align:right;transform:scaleX(1.0894);">$350</div>
<div style="top:549.66px;height:20px;line-height:20px;font-size:15.404px;font-weight:400;color:#1f2430;white-space:nowrap;right:470px;transform-origin:100% 50%;text-align:right;transform:scaleX(1.0894);">$400</div>
<div style="top:549.66px;height:20px;line-height:20px;font-size:15.404px;font-weight:400;color:#1f2430;white-space:nowrap;right:358px;transform-origin:100% 50%;text-align:right;transform:scaleX(1.0894);">$400</div>
<div style="top:549.66px;height:20px;line-height:20px;font-size:15.404px;font-weight:400;color:#1f2430;white-space:nowrap;right:246px;transform-origin:100% 50%;text-align:right;transform:scaleX(1.0894);">$450</div>
<div style="top:549.66px;height:20px;line-height:20px;font-size:15.404px;font-weight:400;color:#1f2430;white-space:nowrap;right:134px;transform-origin:100% 50%;text-align:right;transform:scaleX(1.0894);">$500</div>
<div style="top:549.66px;height:20px;line-height:20px;font-size:15.404px;font-weight:700;color:#16213e;white-space:nowrap;right:22px;transform-origin:100% 50%;text-align:right;transform:scaleX(1.2015);">$3,750</div>
<div style="left:305px;top:208px;width:1344px;height:1px;background:#e4dbbd"></div>
<div style="left:305px;top:245px;width:1344px;height:1px;background:#e4dbbd"></div>
<div style="left:305px;top:282px;width:1344px;height:1px;background:#e4dbbd"></div>
<div style="left:305px;top:319px;width:1344px;height:1px;background:#e4dbbd"></div>
<div style="left:305px;top:356px;width:1344px;height:1px;background:#e4dbbd"></div>
<div style="left:305px;top:393px;width:1344px;height:1px;background:#e7dec2"></div>
<div style="left:305px;top:394px;width:1344px;height:1px;background:#e7dec2"></div>
<div style="left:305px;top:431px;width:1344px;height:1px;background:#e4dbbd"></div>
<div style="left:305px;top:468px;width:1344px;height:1px;background:#e4dbbd"></div>
<div style="left:305px;top:505px;width:1344px;height:1px;background:#e4dbbd"></div>
<div style="left:305px;top:542px;width:1344px;height:1px;background:#e4dbbd"></div>
<div style="left:305px;top:208px;width:1px;height:371px;background:#e4dbbd"></div>
<div style="left:417px;top:208px;width:1px;height:371px;background:#e4dbbd"></div>
<div style="left:529px;top:208px;width:1px;height:371px;background:#e4dbbd"></div>
<div style="left:641px;top:208px;width:1px;height:371px;background:#e4dbbd"></div>
<div style="left:753px;top:208px;width:1px;height:371px;background:#e4dbbd"></div>
<div style="left:865px;top:208px;width:1px;height:371px;background:#e4dbbd"></div>
<div style="left:977px;top:208px;width:1px;height:371px;background:#e4dbbd"></div>
<div style="left:1089px;top:208px;width:1px;height:371px;background:#e4dbbd"></div>
<div style="left:1201px;top:208px;width:1px;height:371px;background:#e4dbbd"></div>
<div style="left:1313px;top:208px;width:1px;height:371px;background:#e4dbbd"></div>
<div style="left:1425px;top:208px;width:1px;height:371px;background:#e4dbbd"></div>
<div style="left:1537px;top:208px;width:1px;height:371px;background:#e4dbbd"></div>
<div style="left:1649px;top:208px;width:1px;height:371px;background:#e4dbbd"></div>
<div style="left:1649px;top:208px;width:113px;height:1px;background:#aab3cc"></div>
<div style="left:1649px;top:245px;width:113px;height:1px;background:#aab3cc"></div>
<div style="left:1649px;top:282px;width:113px;height:1px;background:#aab3cc"></div>
<div style="left:1649px;top:319px;width:113px;height:1px;background:#aab3cc"></div>
<div style="left:1649px;top:356px;width:113px;height:1px;background:#aab3cc"></div>
<div style="left:1649px;top:393px;width:113px;height:1px;background:#b1b9d0"></div>
<div style="left:1649px;top:394px;width:113px;height:1px;background:#b1b9d0"></div>
<div style="left:1649px;top:431px;width:113px;height:1px;background:#aab3cc"></div>
<div style="left:1649px;top:468px;width:113px;height:1px;background:#aab3cc"></div>
<div style="left:1649px;top:505px;width:113px;height:1px;background:#aab3cc"></div>
<div style="left:1649px;top:542px;width:113px;height:1px;background:#aab3cc"></div>
<div style="left:1649px;top:208px;width:1px;height:371px;background:#aab3cc"></div>
<div style="left:1761px;top:208px;width:1px;height:371px;background:#aab3cc"></div>
<div style="left:20px;top:579px;width:1742px;height:1px;background:#cbd1dc"></div>
<div style="top:586.66px;height:20px;line-height:20px;font-size:15.404px;font-weight:700;color:#111827;white-space:nowrap;left:37px;transform-origin:0 50%;transform:scaleX(1.0426);">TOTAL</div>
<div style="top:586.66px;height:20px;line-height:20px;font-size:15.404px;font-weight:700;color:#111827;white-space:nowrap;right:1366px;transform-origin:100% 50%;text-align:right;transform:scaleX(1.1999);">$13,900</div>
<div style="top:586.66px;height:20px;line-height:20px;font-size:15.404px;font-weight:700;color:#111827;white-space:nowrap;right:1254px;transform-origin:100% 50%;text-align:right;transform:scaleX(1.1999);">$15,526</div>
<div style="top:586.66px;height:20px;line-height:20px;font-size:15.404px;font-weight:700;color:#111827;white-space:nowrap;right:1142px;transform-origin:100% 50%;text-align:right;transform:scaleX(1.1999);">$17,531</div>
<div style="top:586.66px;height:20px;line-height:20px;font-size:15.404px;font-weight:700;color:#111827;white-space:nowrap;right:1030px;transform-origin:100% 50%;text-align:right;transform:scaleX(1.1999);">$19,619</div>
<div style="top:586.66px;height:20px;line-height:20px;font-size:15.404px;font-weight:700;color:#111827;white-space:nowrap;right:918px;transform-origin:100% 50%;text-align:right;transform:scaleX(1.1999);">$21,797</div>
<div style="top:586.66px;height:20px;line-height:20px;font-size:15.404px;font-weight:700;color:#111827;white-space:nowrap;right:806px;transform-origin:100% 50%;text-align:right;transform:scaleX(1.1999);">$24,077</div>
<div style="top:586.66px;height:20px;line-height:20px;font-size:15.404px;font-weight:700;color:#111827;white-space:nowrap;right:694px;transform-origin:100% 50%;text-align:right;transform:scaleX(1.1999);">$24,860</div>
<div style="top:586.66px;height:20px;line-height:20px;font-size:15.404px;font-weight:700;color:#111827;white-space:nowrap;right:582px;transform-origin:100% 50%;text-align:right;transform:scaleX(1.1999);">$26,759</div>
<div style="top:586.66px;height:20px;line-height:20px;font-size:15.404px;font-weight:700;color:#111827;white-space:nowrap;right:470px;transform-origin:100% 50%;text-align:right;transform:scaleX(1.1999);">$29,081</div>
<div style="top:586.66px;height:20px;line-height:20px;font-size:15.404px;font-weight:700;color:#111827;white-space:nowrap;right:358px;transform-origin:100% 50%;text-align:right;transform:scaleX(1.1999);">$31,289</div>
<div style="top:586.66px;height:20px;line-height:20px;font-size:15.404px;font-weight:700;color:#111827;white-space:nowrap;right:246px;transform-origin:100% 50%;text-align:right;transform:scaleX(1.1999);">$32,790</div>
<div style="top:586.66px;height:20px;line-height:20px;font-size:15.404px;font-weight:700;color:#111827;white-space:nowrap;right:134px;transform-origin:100% 50%;text-align:right;transform:scaleX(1.1999);">$36,245</div>
<div style="top:586.66px;height:20px;line-height:20px;font-size:15.404px;font-weight:700;color:#111827;white-space:nowrap;right:22px;transform-origin:100% 50%;text-align:right;transform:scaleX(1.1986);">$293,474</div>
<div style="top:648.13px;height:22px;line-height:22px;font-size:16.936px;font-weight:700;color:#16213e;white-space:nowrap;left:37px;transform-origin:0 50%;transform:scaleX(1.0599);">GROWTH RATE ASSUMPTIONS</div>
<div style="left:20px;top:678px;width:1741px;height:3px;background:#0f1a33"></div>
<div style="left:20px;top:678px;width:733px;height:47px;background:#16213e"></div>
<div style="top:691.66px;height:20px;line-height:20px;font-size:15.404px;font-weight:700;color:#fff;white-space:nowrap;left:37px;transform-origin:0 50%;transform:scaleX(1.1479);">Stream</div>
<div style="top:691.66px;height:20px;line-height:20px;font-size:15.404px;font-weight:700;color:#fff;white-space:nowrap;left:61px;width:600px;text-align:center;transform-origin:50% 50%;"><span style="display:inline-block;transform:scaleX(1.1156)">Annual Total</span></div>
<div style="top:691.66px;height:20px;line-height:20px;font-size:15.404px;font-weight:700;color:#fff;white-space:nowrap;left:173px;width:600px;text-align:center;transform-origin:50% 50%;"><span style="display:inline-block;transform:scaleX(1.1233)">Avg Monthly</span></div>
<div style="top:683.66px;height:20px;line-height:20px;font-size:15.404px;font-weight:700;color:#fff;white-space:nowrap;left:285px;width:600px;text-align:center;transform-origin:50% 50%;"><span style="display:inline-block;transform:scaleX(1.1218)">Mo/Mo</span></div>
<div style="top:700.66px;height:20px;line-height:20px;font-size:15.404px;font-weight:700;color:#fff;white-space:nowrap;left:285px;width:600px;text-align:center;transform-origin:50% 50%;"><span style="display:inline-block;transform:scaleX(1.1195)">Growth</span></div>
<div style="top:683.66px;height:20px;line-height:20px;font-size:15.404px;font-weight:700;color:#fff;white-space:nowrap;left:397px;width:600px;text-align:center;transform-origin:50% 50%;"><span style="display:inline-block;transform:scaleX(1.1241)">% of Total</span></div>
<div style="top:700.66px;height:20px;line-height:20px;font-size:15.404px;font-weight:700;color:#fff;white-space:nowrap;left:397px;width:600px;text-align:center;transform-origin:50% 50%;"><span style="display:inline-block;transform:scaleX(1.1150)">Revenue</span></div>
<div style="left:20px;top:725px;width:733px;height:38px;background:#ffffff"></div>
<div style="left:20px;top:762px;width:733px;height:38px;background:#f3f4f6"></div>
<div style="left:20px;top:799px;width:733px;height:38px;background:#ffffff"></div>
<div style="left:20px;top:836px;width:733px;height:38px;background:#f3f4f6"></div>
<div style="left:20px;top:873px;width:733px;height:38px;background:#ffffff"></div>
<div style="left:20px;top:910px;width:733px;height:38px;background:#f3f4f6"></div>
<div style="left:20px;top:947px;width:733px;height:38px;background:#ffffff"></div>
<div style="left:20px;top:984px;width:733px;height:38px;background:#f3f4f6"></div>
<div style="left:20px;top:1021px;width:733px;height:39px;background:#ffffff"></div>
<div style="left:20px;top:1058px;width:733px;height:39px;background:#f3f4f6"></div>
<div style="left:20px;top:762px;width:733px;height:1px;background:#e5e7eb"></div>
<div style="left:20px;top:799px;width:733px;height:1px;background:#e5e7eb"></div>
<div style="left:20px;top:836px;width:733px;height:1px;background:#e5e7eb"></div>
<div style="left:20px;top:873px;width:733px;height:1px;background:#e5e7eb"></div>
<div style="left:20px;top:910px;width:733px;height:1px;background:#e5e7eb"></div>
<div style="left:20px;top:947px;width:733px;height:1px;background:#e5e7eb"></div>
<div style="left:20px;top:984px;width:733px;height:1px;background:#e5e7eb"></div>
<div style="left:20px;top:1021px;width:733px;height:1px;background:#e5e7eb"></div>
<div style="left:20px;top:1058px;width:733px;height:1px;background:#e6e8ec"></div>
<div style="left:20px;top:1059px;width:733px;height:1px;background:#e6e8ec"></div>
<div style="top:733.66px;height:20px;line-height:20px;font-size:15.404px;font-weight:400;color:#1f2430;white-space:nowrap;left:21.5px;transform-origin:0 50%;transform:scaleX(1.0415);">SaaS Subscriptions - Basic</div>
<div style="top:733.66px;height:20px;line-height:20px;font-size:15.404px;font-weight:400;color:#1f2430;white-space:nowrap;right:1366px;transform-origin:100% 50%;text-align:right;transform:scaleX(1.0893);">$85,397</div>
<div style="top:733.66px;height:20px;line-height:20px;font-size:15.404px;font-weight:400;color:#1f2430;white-space:nowrap;right:1254px;transform-origin:100% 50%;text-align:right;transform:scaleX(1.1167);">$7,116</div>
<div style="top:733.66px;height:20px;line-height:20px;font-size:15.404px;font-weight:400;color:#1f2430;white-space:nowrap;right:1142px;transform-origin:100% 50%;text-align:right;transform:scaleX(1.0670);">8.00%</div>
<div style="top:733.66px;height:20px;line-height:20px;font-size:15.404px;font-weight:400;color:#1f2430;white-space:nowrap;right:1030px;transform-origin:100% 50%;text-align:right;transform:scaleX(1.0706);">29.10%</div>
<div style="top:770.66px;height:20px;line-height:20px;font-size:15.404px;font-weight:400;color:#1f2430;white-space:nowrap;left:21.5px;transform-origin:0 50%;transform:scaleX(1.0624);">SaaS Subscriptions - Ultimate</div>
<div style="top:770.66px;height:20px;line-height:20px;font-size:15.404px;font-weight:400;color:#1f2430;white-space:nowrap;right:1366px;transform-origin:100% 50%;text-align:right;transform:scaleX(1.0893);">$94,886</div>
<div style="top:770.66px;height:20px;line-height:20px;font-size:15.404px;font-weight:400;color:#1f2430;white-space:nowrap;right:1254px;transform-origin:100% 50%;text-align:right;transform:scaleX(1.0896);">$7,907</div>
<div style="top:770.66px;height:20px;line-height:20px;font-size:15.404px;font-weight:400;color:#1f2430;white-space:nowrap;right:1142px;transform-origin:100% 50%;text-align:right;transform:scaleX(1.0670);">8.00%</div>
<div style="top:770.66px;height:20px;line-height:20px;font-size:15.404px;font-weight:400;color:#1f2430;white-space:nowrap;right:1030px;transform-origin:100% 50%;text-align:right;transform:scaleX(1.0706);">32.33%</div>
<div style="top:807.66px;height:20px;line-height:20px;font-size:15.404px;font-weight:400;color:#1f2430;white-space:nowrap;left:21.5px;transform-origin:0 50%;transform:scaleX(1.0541);">SaaS Subscriptions - Enterprise</div>
<div style="top:807.66px;height:20px;line-height:20px;font-size:15.404px;font-weight:400;color:#1f2430;white-space:nowrap;right:1366px;transform-origin:100% 50%;text-align:right;transform:scaleX(1.0893);">$37,955</div>
<div style="top:807.66px;height:20px;line-height:20px;font-size:15.404px;font-weight:400;color:#1f2430;white-space:nowrap;right:1254px;transform-origin:100% 50%;text-align:right;transform:scaleX(1.0896);">$3,163</div>
<div style="top:807.66px;height:20px;line-height:20px;font-size:15.404px;font-weight:400;color:#1f2430;white-space:nowrap;right:1142px;transform-origin:100% 50%;text-align:right;transform:scaleX(1.0670);">8.00%</div>
<div style="top:807.66px;height:20px;line-height:20px;font-size:15.404px;font-weight:400;color:#1f2430;white-space:nowrap;right:1030px;transform-origin:100% 50%;text-align:right;transform:scaleX(1.0706);">12.93%</div>
<div style="top:844.66px;height:20px;line-height:20px;font-size:15.404px;font-weight:400;color:#1f2430;white-space:nowrap;left:21.5px;transform-origin:0 50%;transform:scaleX(1.0271);">One-Time Setup Fees</div>
<div style="top:844.66px;height:20px;line-height:20px;font-size:15.404px;font-weight:400;color:#1f2430;white-space:nowrap;right:1366px;transform-origin:100% 50%;text-align:right;transform:scaleX(1.0893);">$18,600</div>
<div style="top:844.66px;height:20px;line-height:20px;font-size:15.404px;font-weight:400;color:#1f2430;white-space:nowrap;right:1254px;transform-origin:100% 50%;text-align:right;transform:scaleX(1.0896);">$1,550</div>
<div style="top:844.66px;height:20px;line-height:20px;font-size:15.404px;font-weight:400;color:#1f2430;white-space:nowrap;right:1142px;transform-origin:100% 50%;text-align:right;transform:scaleX(1.0670);">9.63%</div>
<div style="top:844.66px;height:20px;line-height:20px;font-size:15.404px;font-weight:400;color:#1f2430;white-space:nowrap;right:1030px;transform-origin:100% 50%;text-align:right;transform:scaleX(1.0670);">6.34%</div>
<div style="top:881.66px;height:20px;line-height:20px;font-size:15.404px;font-weight:400;color:#1f2430;white-space:nowrap;left:21.5px;transform-origin:0 50%;transform:scaleX(1.0442);">Professional Services</div>
<div style="top:881.66px;height:20px;line-height:20px;font-size:15.404px;font-weight:400;color:#1f2430;white-space:nowrap;right:1366px;transform-origin:100% 50%;text-align:right;transform:scaleX(1.0893);">$22,400</div>
<div style="top:881.66px;height:20px;line-height:20px;font-size:15.404px;font-weight:400;color:#1f2430;white-space:nowrap;right:1254px;transform-origin:100% 50%;text-align:right;transform:scaleX(1.0896);">$1,867</div>
<div style="top:881.66px;height:20px;line-height:20px;font-size:15.404px;font-weight:400;color:#1f2430;white-space:nowrap;right:1142px;transform-origin:100% 50%;text-align:right;transform:scaleX(1.0706);">16.95%</div>
<div style="top:881.66px;height:20px;line-height:20px;font-size:15.404px;font-weight:400;color:#1f2430;white-space:nowrap;right:1030px;transform-origin:100% 50%;text-align:right;transform:scaleX(1.0670);">7.63%</div>
<div style="top:918.66px;height:20px;line-height:20px;font-size:15.404px;font-weight:400;color:#1f2430;white-space:nowrap;left:21.5px;transform-origin:0 50%;transform:scaleX(0.9969);">API Access Fees</div>
<div style="top:918.66px;height:20px;line-height:20px;font-size:15.404px;font-weight:400;color:#1f2430;white-space:nowrap;right:1366px;transform-origin:100% 50%;text-align:right;transform:scaleX(1.0896);">$7,593</div>
<div style="top:918.66px;height:20px;line-height:20px;font-size:15.404px;font-weight:400;color:#1f2430;white-space:nowrap;right:1254px;transform-origin:100% 50%;text-align:right;transform:scaleX(1.0894);">$633</div>
<div style="top:918.66px;height:20px;line-height:20px;font-size:15.404px;font-weight:400;color:#1f2430;white-space:nowrap;right:1142px;transform-origin:100% 50%;text-align:right;transform:scaleX(1.0670);">8.00%</div>
<div style="top:918.66px;height:20px;line-height:20px;font-size:15.404px;font-weight:400;color:#1f2430;white-space:nowrap;right:1030px;transform-origin:100% 50%;text-align:right;transform:scaleX(1.0670);">2.59%</div>
<div style="top:955.66px;height:20px;line-height:20px;font-size:15.404px;font-weight:400;color:#1f2430;white-space:nowrap;left:21.5px;transform-origin:0 50%;transform:scaleX(1.0382);">Add-On Features</div>
<div style="top:955.66px;height:20px;line-height:20px;font-size:15.404px;font-weight:400;color:#1f2430;white-space:nowrap;right:1366px;transform-origin:100% 50%;text-align:right;transform:scaleX(1.0896);">$5,693</div>
<div style="top:955.66px;height:20px;line-height:20px;font-size:15.404px;font-weight:400;color:#1f2430;white-space:nowrap;right:1254px;transform-origin:100% 50%;text-align:right;transform:scaleX(1.0894);">$474</div>
<div style="top:955.66px;height:20px;line-height:20px;font-size:15.404px;font-weight:400;color:#1f2430;white-space:nowrap;right:1142px;transform-origin:100% 50%;text-align:right;transform:scaleX(1.0670);">7.99%</div>
<div style="top:955.66px;height:20px;line-height:20px;font-size:15.404px;font-weight:400;color:#1f2430;white-space:nowrap;right:1030px;transform-origin:100% 50%;text-align:right;transform:scaleX(1.0670);">1.94%</div>
<div style="top:992.66px;height:20px;line-height:20px;font-size:15.404px;font-weight:400;color:#1f2430;white-space:nowrap;left:21.5px;transform-origin:0 50%;transform:scaleX(1.0491);">Partner Referral Revenue</div>
<div style="top:992.66px;height:20px;line-height:20px;font-size:15.404px;font-weight:400;color:#1f2430;white-space:nowrap;right:1366px;transform-origin:100% 50%;text-align:right;transform:scaleX(1.0896);">$7,000</div>
<div style="top:992.66px;height:20px;line-height:20px;font-size:15.404px;font-weight:400;color:#1f2430;white-space:nowrap;right:1254px;transform-origin:100% 50%;text-align:right;transform:scaleX(1.0894);">$583</div>
<div style="top:992.66px;height:20px;line-height:20px;font-size:15.404px;font-weight:400;color:#1f2430;white-space:nowrap;right:1142px;transform-origin:100% 50%;text-align:right;transform:scaleX(1.0706);">23.28%</div>
<div style="top:992.66px;height:20px;line-height:20px;font-size:15.404px;font-weight:400;color:#1f2430;white-space:nowrap;right:1030px;transform-origin:100% 50%;text-align:right;transform:scaleX(1.0670);">2.39%</div>
<div style="top:1029.66px;height:20px;line-height:20px;font-size:15.404px;font-weight:400;color:#1f2430;white-space:nowrap;left:21.5px;transform-origin:0 50%;transform:scaleX(1.0654);">Training &amp; Onboarding</div>
<div style="top:1029.66px;height:20px;line-height:20px;font-size:15.404px;font-weight:400;color:#1f2430;white-space:nowrap;right:1366px;transform-origin:100% 50%;text-align:right;transform:scaleX(1.0893);">$10,200</div>
<div style="top:1029.66px;height:20px;line-height:20px;font-size:15.404px;font-weight:400;color:#1f2430;white-space:nowrap;right:1254px;transform-origin:100% 50%;text-align:right;transform:scaleX(1.0894);">$850</div>
<div style="top:1029.66px;height:20px;line-height:20px;font-size:15.404px;font-weight:400;color:#1f2430;white-space:nowrap;right:1142px;transform-origin:100% 50%;text-align:right;transform:scaleX(1.0706);">18.55%</div>
<div style="top:1029.66px;height:20px;line-height:20px;font-size:15.404px;font-weight:400;color:#1f2430;white-space:nowrap;right:1030px;transform-origin:100% 50%;text-align:right;transform:scaleX(1.0670);">3.48%</div>
<div style="top:1066.66px;height:20px;line-height:20px;font-size:15.404px;font-weight:400;color:#1f2430;white-space:nowrap;left:21.5px;transform-origin:0 50%;transform:scaleX(1.0548);">Other Revenue</div>
<div style="top:1066.66px;height:20px;line-height:20px;font-size:15.404px;font-weight:400;color:#1f2430;white-space:nowrap;right:1366px;transform-origin:100% 50%;text-align:right;transform:scaleX(1.0896);">$3,750</div>
<div style="top:1066.66px;height:20px;line-height:20px;font-size:15.404px;font-weight:400;color:#1f2430;white-space:nowrap;right:1254px;transform-origin:100% 50%;text-align:right;transform:scaleX(1.0894);">$313</div>
<div style="top:1066.66px;height:20px;line-height:20px;font-size:15.404px;font-weight:400;color:#1f2430;white-space:nowrap;right:1142px;transform-origin:100% 50%;text-align:right;transform:scaleX(1.0706);">15.76%</div>
<div style="top:1066.66px;height:20px;line-height:20px;font-size:15.404px;font-weight:400;color:#1f2430;white-space:nowrap;right:1030px;transform-origin:100% 50%;text-align:right;transform:scaleX(1.0670);">1.28%</div>
<div style="left:20px;top:1096px;width:509px;height:1px;background:#cbd1dc"></div>
<div style="left:641px;top:1096px;width:112px;height:1px;background:#cbd1dc"></div>
<div style="top:1103.66px;height:20px;line-height:20px;font-size:15.404px;font-weight:700;color:#111827;white-space:nowrap;left:37px;transform-origin:0 50%;transform:scaleX(1.0441);">TOTAL REVENUE</div>
<div style="top:1103.66px;height:20px;line-height:20px;font-size:15.404px;font-weight:700;color:#111827;white-space:nowrap;right:1366px;transform-origin:100% 50%;text-align:right;transform:scaleX(1.1986);">$293,474</div>
<div style="top:1103.66px;height:20px;line-height:20px;font-size:15.404px;font-weight:700;color:#111827;white-space:nowrap;right:1254px;transform-origin:100% 50%;text-align:right;transform:scaleX(1.1999);">$24,456</div>
<div style="top:1103.66px;height:20px;line-height:20px;font-size:15.404px;font-weight:700;color:#111827;white-space:nowrap;right:1030px;transform-origin:100% 50%;text-align:right;transform:scaleX(1.1725);">100.00%</div>
<div style="top:1161.75px;height:16px;line-height:16px;font-size:12.254px;font-weight:700;color:#8f6d3f;white-space:nowrap;left:37px;transform-origin:0 50%;transform:scaleX(1.1340);">Ultimate Template by FinancialAha.com - Premium financial tools and templates</div>
<div style="top:1189.75px;height:16px;line-height:16px;font-size:12.254px;font-weight:400;color:#1a1a8c;white-space:nowrap;left:37px;transform-origin:0 50%;transform:scaleX(1.0778);text-decoration:underline;text-decoration-skip-ink:none;">Explore more Ultimate templates at FinancialAha.com</div>
</body></html>
